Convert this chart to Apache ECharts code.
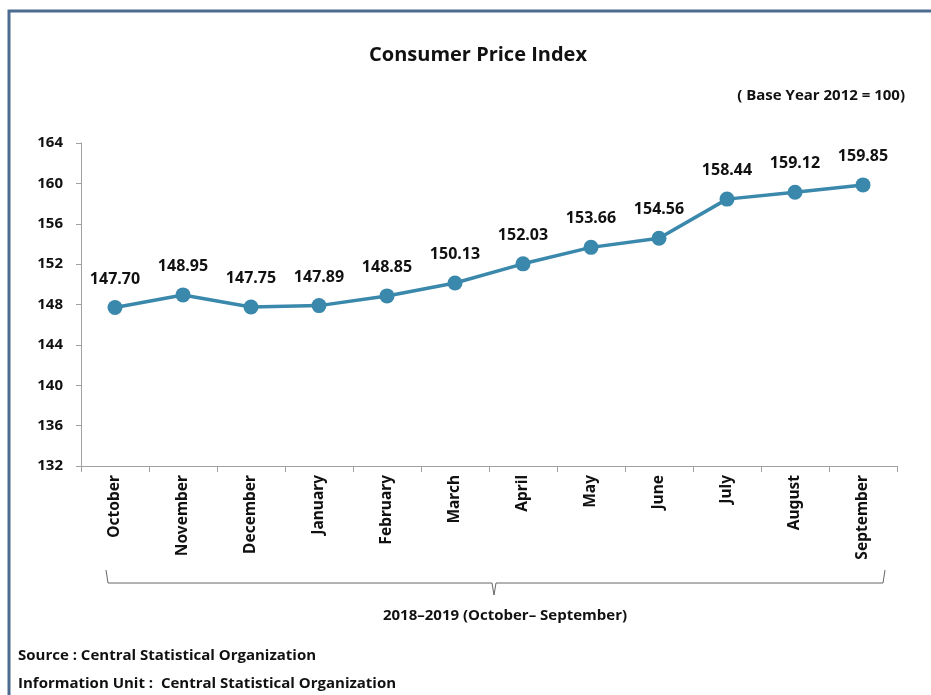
<!DOCTYPE html>
<html>
<head>
<meta charset="utf-8">
<script src="https://cdn.jsdelivr.net/npm/echarts@6/dist/echarts.min.js"></script>
<style>
  html, body { margin: 0; padding: 0; background: #fff; }
  #main { width: 931px; height: 695px; }
</style>
</head>
<body>
<div id="main"></div>
<script>
// 月份与数值
const months = ['October', 'November', 'December', 'January', 'February', 'March', 'April', 'May', 'June', 'July', 'August', 'September'];
const cpiValues = [147.70, 148.95, 147.75, 147.89, 148.85, 150.13, 152.03, 153.66, 154.56, 158.44, 159.12, 159.85];
const yTicks = { min: 132, max: 164, step: 4 };

const narrow = '"Liberation Sans Narrow", "Open Sans", sans-serif';
const lineColor = '#3a88ab';

const chart = echarts.init(document.getElementById('main'));

const option = {
  backgroundColor: '#fff',
  title: {
    text: 'Consumer Price Index',
    left: 473,
    top: 40,
    textAlign: 'center',
    textStyle: { fontFamily: narrow, fontSize: 20, fontWeight: 'bold', color: '#111' }
  },
  grid: { left: 81, right: 34, top: 143, bottom: 229 },
  xAxis: {
    type: 'category',
    data: months,
    boundaryGap: true,
    axisLine: { lineStyle: { color: '#a0a0a0', width: 1 } },
    axisTick: { show: true, length: 6, lineStyle: { color: '#a0a0a0' } },
    axisLabel: {
      rotate: 90,
      margin: 9,
      color: '#111',
      fontFamily: '"Noto Sans", sans-serif',
      fontWeight: 'bold',
      fontSize: 15.5
    }
  },
  yAxis: {
    type: 'value',
    min: yTicks.min,
    max: yTicks.max,
    interval: yTicks.step,
    splitLine: { show: false },
    axisLine: { show: true, lineStyle: { color: '#a0a0a0', width: 1 } },
    axisTick: { show: true, length: 5, lineStyle: { color: '#a0a0a0' } },
    axisLabel: {
      margin: 18,
      color: '#111',
      fontFamily: '"Noto Sans", sans-serif',
      fontWeight: 'bold',
      fontSize: 15
    }
  },
  series: [
    {
      type: 'line',
      data: cpiValues,
      symbol: 'circle',
      symbolSize: 15,
      lineStyle: { color: lineColor, width: 3.5 },
      itemStyle: { color: lineColor },
      label: {
        show: true,
        position: 'top',
        distance: 13,
        formatter: p => p.value.toFixed(2),
        color: '#111',
        fontFamily: '"Noto Sans", sans-serif',
        fontWeight: 'bold',
        fontSize: 16
      }
    }
  ],
  graphic: [
    // 外框
    {
      type: 'rect',
      shape: { x: 9, y: 11, width: 940, height: 700 },
      style: { fill: 'none', stroke: '#4d6b8f', lineWidth: 3 }
    },
    {
      type: 'text',
      right: 26,
      top: 88,
      style: { text: '( Base Year 2012 = 100)', fontFamily: narrow, fontSize: 15, fontWeight: 'bold', fill: '#111' }
    },
    // 大括号
    {
      type: 'polyline',
      shape: { points: [[106, 570], [108, 583], [492, 583], [494, 595], [496, 583], [883, 583], [885, 570]] },
      style: { fill: 'none', stroke: '#666', lineWidth: 1 }
    },
    {
      type: 'text',
      x: 505,
      y: 608,
      style: { text: '2018–2019 (October– September)', fontFamily: narrow, fontSize: 15, fontWeight: 'bold', fill: '#111', align: 'center', textAlign: 'center' }
    },
    {
      type: 'text',
      left: 18,
      top: 648,
      style: { text: 'Source : Central Statistical Organization', fontFamily: narrow, fontSize: 15, fontWeight: 'bold', fill: '#111' }
    },
    {
      type: 'text',
      left: 18,
      top: 676,
      style: { text: 'Information Unit :  Central Statistical Organization', fontFamily: narrow, fontSize: 15, fontWeight: 'bold', fill: '#111' }
    }
  ]
};

chart.setOption(option);
</script>
</body>
</html>
